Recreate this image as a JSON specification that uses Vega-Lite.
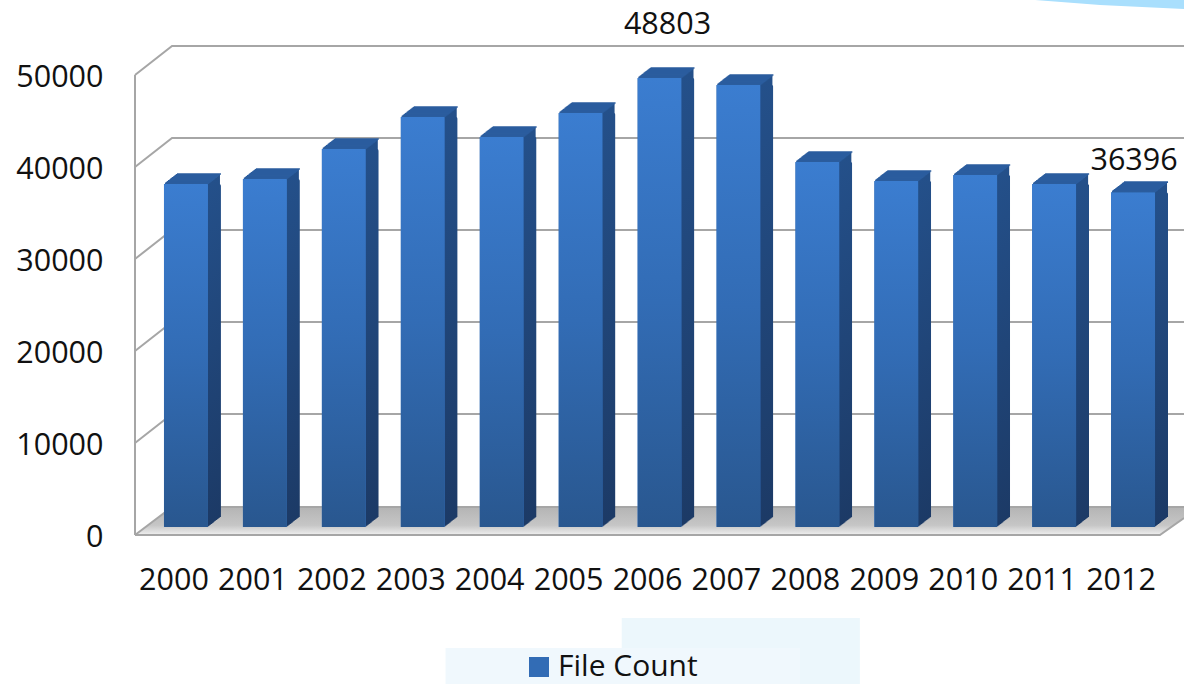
{"$schema":"https://vega.github.io/schema/vega-lite/v6.json","width":1049,"height":460,"autosize":{"type":"none"},"padding":{"left":135,"top":67,"right":0,"bottom":157},"background":"white","config":{"view":{"stroke":null},"font":"Open Sans"},
"datasets":{"bars":[{"year":"2000","files":37283},{"year":"2001","files":37826},{"year":"2002","files":41087},{"year":"2003","files":44565},{"year":"2004","files":42391},{"year":"2005","files":45000},{"year":"2006","files":48803},{"year":"2007","files":48043},{"year":"2008","files":39674},{"year":"2009","files":37609},{"year":"2010","files":38261},{"year":"2011","files":37283},{"year":"2012","files":36396}],
"frame":[{"g":"a","f":0,"v":49130},{"g":"a","f":0.0353,"v":52283},{"g":"a","f":1,"v":52283},{"g":"b","f":0,"v":39130},{"g":"b","f":0.0353,"v":42283},{"g":"b","f":1,"v":42283},{"g":"c","f":0,"v":29130},{"g":"c","f":0.0353,"v":32283},{"g":"c","f":1,"v":32283},{"g":"d","f":0,"v":19130},{"g":"d","f":0.0353,"v":22283},{"g":"d","f":1,"v":22283},{"g":"e","f":0,"v":9130},{"g":"e","f":0.0353,"v":12283},{"g":"e","f":1,"v":12283},{"g":"f","f":0,"v":-870},{"g":"f","f":0.0353,"v":2174},{"g":"f","f":1,"v":2174},{"g":"h","f":0,"v":-870},{"g":"h","f":0.977,"v":-870},{"g":"h","f":1,"v":978},{"g":"i","f":0,"v":49130},{"g":"i","f":0.00001,"v":-870}],
"floor":[{"f":0,"t":-870,"b":-870},{"f":0.0353,"t":2174,"b":-870},{"f":0.977,"t":2174,"b":-870},{"f":1,"t":2174,"b":978}],
"patches":[{"f1":0.464,"f2":0.691,"v1":-9891,"v2":-17065,"c":"#ecf7fc"},{"f1":0.296,"f2":0.634,"v1":-13152,"v2":-17065,"c":"#f0f8fd"}],
"swoosh":[{"f":0.858,"t":57283,"b":57283},{"f":0.92,"t":57283,"b":56739},{"f":1,"t":57283,"b":56304}]},
"resolve":{"scale":{"x":"independent"}},
"layer":[
{"data":{"name":"patches"},"mark":{"type":"rect"},"encoding":{"x":{"field":"f1","type":"quantitative","scale":{"domain":[0,1],"range":[0,1049]},"axis":null},"x2":{"field":"f2"},"y":{"field":"v1","type":"quantitative","scale":{"domain":[0,50000],"range":[460,0]},"axis":{"values":[0,10000,20000,30000,40000,50000],"format":"d","title":null,"domain":false,"ticks":false,"grid":false,"labelFontSize":30.5,"labelColor":"#111111","labelPadding":32,"labelOffset":10,"labelBound":false,"labelFlush":false,"labelOverlap":false,"labelFont":"Open Sans"}},"y2":{"field":"v2"},"fill":{"field":"c","type":"nominal","scale":null}}},
{"data":{"name":"swoosh"},"mark":{"type":"area","color":"#a9dffd","clip":false},"encoding":{"x":{"field":"f","type":"quantitative","scale":{"domain":[0,1],"range":[0,1049]},"axis":null},"y":{"field":"t","type":"quantitative"},"y2":{"field":"b"}}},
{"data":{"name":"floor"},"mark":{"type":"area","color":{"gradient":"linear","x1":0,"y1":0,"x2":0,"y2":1,"stops":[{"offset":0,"color":"#b4b4b4"},{"offset":0.65,"color":"#c6c6c6"},{"offset":1,"color":"#efefef"}]}},"encoding":{"x":{"field":"f","type":"quantitative","scale":{"domain":[0,1],"range":[0,1049]},"axis":null},"y":{"field":"t","type":"quantitative"},"y2":{"field":"b"}}},
{"data":{"name":"frame"},"mark":{"type":"line","color":"#a6a6a6","strokeWidth":2},"encoding":{"x":{"field":"f","type":"quantitative","scale":{"domain":[0,1],"range":[0,1049]},"axis":null},"y":{"field":"v","type":"quantitative"},"detail":{"field":"g"}}},
{"data":{"name":"bars"},"encoding":{"x":{"field":"year","type":"nominal","scale":{"type":"band","range":[11.5,1037.5]},"axis":{"title":null,"domain":false,"ticks":false,"grid":false,"labelAngle":0,"labelFontSize":30.5,"labelColor":"#111111","labelPadding":38,"labelOffset":-12,"labelFont":"Open Sans","labelBound":false,"labelFlush":false,"labelOverlap":false}},"y":{"field":"files","type":"quantitative"}},"layer":[
{"mark":{"type":"bar","width":44,"xOffset":13,"yOffset":-10,"cornerRadius":2,"fill":{"gradient":"linear","x1":0,"y1":0,"x2":0,"y2":1,"stops":[{"offset":0,"color":"#24508a"},{"offset":1,"color":"#1c3a66"}]}}},
{"mark":{"type":"tick","orient":"horizontal","size":44,"thickness":1.6,"xOffset":13,"yOffset":-10,"color":"#2b5d9e","opacity":1}},
{"mark":{"type":"bar","width":44,"xOffset":12,"yOffset":-9.2,"fill":{"gradient":"linear","x1":0,"y1":0,"x2":0,"y2":1,"stops":[{"offset":0,"color":"#24508a"},{"offset":1,"color":"#1c3a66"}]}}},
{"mark":{"type":"tick","orient":"horizontal","size":44,"thickness":1.6,"xOffset":12,"yOffset":-9.2,"color":"#2b5d9e","opacity":1}},
{"mark":{"type":"bar","width":44,"xOffset":11,"yOffset":-8.5,"fill":{"gradient":"linear","x1":0,"y1":0,"x2":0,"y2":1,"stops":[{"offset":0,"color":"#24508a"},{"offset":1,"color":"#1c3a66"}]}}},
{"mark":{"type":"tick","orient":"horizontal","size":44,"thickness":1.6,"xOffset":11,"yOffset":-8.5,"color":"#2b5d9e","opacity":1}},
{"mark":{"type":"bar","width":44,"xOffset":10,"yOffset":-7.7,"fill":{"gradient":"linear","x1":0,"y1":0,"x2":0,"y2":1,"stops":[{"offset":0,"color":"#24508a"},{"offset":1,"color":"#1c3a66"}]}}},
{"mark":{"type":"tick","orient":"horizontal","size":44,"thickness":1.6,"xOffset":10,"yOffset":-7.7,"color":"#2b5d9e","opacity":1}},
{"mark":{"type":"bar","width":44,"xOffset":9,"yOffset":-6.9,"fill":{"gradient":"linear","x1":0,"y1":0,"x2":0,"y2":1,"stops":[{"offset":0,"color":"#24508a"},{"offset":1,"color":"#1c3a66"}]}}},
{"mark":{"type":"tick","orient":"horizontal","size":44,"thickness":1.6,"xOffset":9,"yOffset":-6.9,"color":"#2b5d9e","opacity":1}},
{"mark":{"type":"bar","width":44,"xOffset":8,"yOffset":-6.2,"fill":{"gradient":"linear","x1":0,"y1":0,"x2":0,"y2":1,"stops":[{"offset":0,"color":"#24508a"},{"offset":1,"color":"#1c3a66"}]}}},
{"mark":{"type":"tick","orient":"horizontal","size":44,"thickness":1.6,"xOffset":8,"yOffset":-6.2,"color":"#2b5d9e","opacity":1}},
{"mark":{"type":"bar","width":44,"xOffset":7,"yOffset":-5.4,"fill":{"gradient":"linear","x1":0,"y1":0,"x2":0,"y2":1,"stops":[{"offset":0,"color":"#24508a"},{"offset":1,"color":"#1c3a66"}]}}},
{"mark":{"type":"tick","orient":"horizontal","size":44,"thickness":1.6,"xOffset":7,"yOffset":-5.4,"color":"#2b5d9e","opacity":1}},
{"mark":{"type":"bar","width":44,"xOffset":6,"yOffset":-4.6,"fill":{"gradient":"linear","x1":0,"y1":0,"x2":0,"y2":1,"stops":[{"offset":0,"color":"#24508a"},{"offset":1,"color":"#1c3a66"}]}}},
{"mark":{"type":"tick","orient":"horizontal","size":44,"thickness":1.6,"xOffset":6,"yOffset":-4.6,"color":"#2b5d9e","opacity":1}},
{"mark":{"type":"bar","width":44,"xOffset":5,"yOffset":-3.8,"fill":{"gradient":"linear","x1":0,"y1":0,"x2":0,"y2":1,"stops":[{"offset":0,"color":"#24508a"},{"offset":1,"color":"#1c3a66"}]}}},
{"mark":{"type":"tick","orient":"horizontal","size":44,"thickness":1.6,"xOffset":5,"yOffset":-3.8,"color":"#2b5d9e","opacity":1}},
{"mark":{"type":"bar","width":44,"xOffset":4,"yOffset":-3.1,"fill":{"gradient":"linear","x1":0,"y1":0,"x2":0,"y2":1,"stops":[{"offset":0,"color":"#24508a"},{"offset":1,"color":"#1c3a66"}]}}},
{"mark":{"type":"tick","orient":"horizontal","size":44,"thickness":1.6,"xOffset":4,"yOffset":-3.1,"color":"#2b5d9e","opacity":1}},
{"mark":{"type":"bar","width":44,"xOffset":3,"yOffset":-2.3,"fill":{"gradient":"linear","x1":0,"y1":0,"x2":0,"y2":1,"stops":[{"offset":0,"color":"#24508a"},{"offset":1,"color":"#1c3a66"}]}}},
{"mark":{"type":"tick","orient":"horizontal","size":44,"thickness":1.6,"xOffset":3,"yOffset":-2.3,"color":"#2b5d9e","opacity":1}},
{"mark":{"type":"bar","width":44,"xOffset":2,"yOffset":-1.5,"fill":{"gradient":"linear","x1":0,"y1":0,"x2":0,"y2":1,"stops":[{"offset":0,"color":"#24508a"},{"offset":1,"color":"#1c3a66"}]}}},
{"mark":{"type":"tick","orient":"horizontal","size":44,"thickness":1.6,"xOffset":2,"yOffset":-1.5,"color":"#2b5d9e","opacity":1}},
{"mark":{"type":"bar","width":44,"xOffset":1,"yOffset":-0.8,"fill":{"gradient":"linear","x1":0,"y1":0,"x2":0,"y2":1,"stops":[{"offset":0,"color":"#24508a"},{"offset":1,"color":"#1c3a66"}]}}},
{"mark":{"type":"tick","orient":"horizontal","size":44,"thickness":1.6,"xOffset":1,"yOffset":-0.8,"color":"#2b5d9e","opacity":1}},
{"mark":{"type":"bar","width":44},"encoding":{"color":{"datum":"File Count","type":"nominal","scale":{"range":["#326cb5"]},"legend":{"title":null,"orient":"none","legendX":389,"legendY":585,"symbolType":"square","symbolSize":400,"symbolStrokeWidth":0,"labelFontSize":30,"labelColor":"#111111","labelFont":"Open Sans","labelLimit":300,"labelOffset":4}}}},
{"mark":{"type":"bar","width":44,"cornerRadius":1,"fill":{"gradient":"linear","x1":0,"y1":0,"x2":0,"y2":1,"stops":[{"offset":0,"color":"#3b7dd0"},{"offset":0.5,"color":"#326cb5"},{"offset":1,"color":"#29578f"}]}}},
{"transform":[{"filter":"datum.year==='2006'"}],"mark":{"type":"text","dx":8,"dy":-53,"fontSize":30.5,"color":"#111111","font":"Open Sans"},"encoding":{"text":{"field":"files","type":"quantitative","format":"d"}}},
{"transform":[{"filter":"datum.year==='2012'"}],"mark":{"type":"text","dx":1,"dy":-31,"fontSize":30.5,"color":"#111111","font":"Open Sans"},"encoding":{"text":{"field":"files","type":"quantitative","format":"d"}}}
]}
]}
